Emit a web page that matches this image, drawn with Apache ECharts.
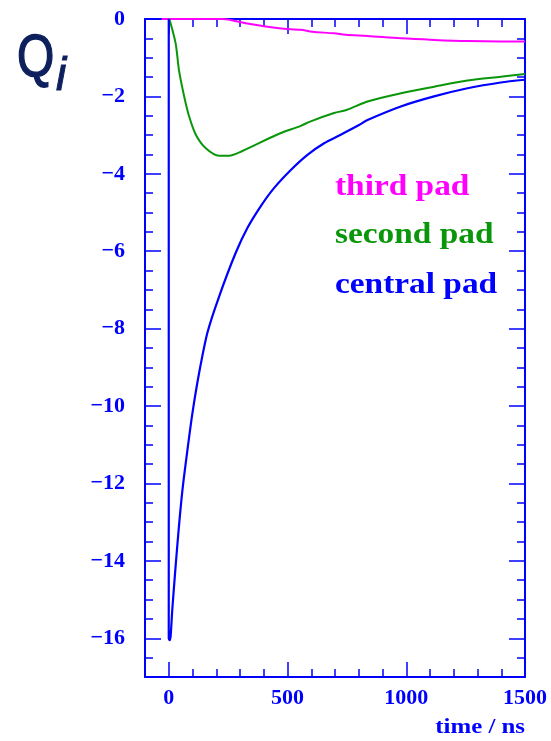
<!DOCTYPE html>
<html>
<head lang="en">
    <meta charset="UTF-8">
    <title>Q_i vs time</title>
    <script type="text/javascript" src="https://cdn.jsdelivr.net/npm/echarts@6/dist/echarts.min.js"></script>
    <style>
        html, body { margin: 0; padding: 0; background: #fff; }
        #chart { width: 551px; height: 741px; }
    </style>
</head>
<body>
<div id="chart"></div>
<script type="text/javascript">
    // values: [time in ns, Q]
    var centralPad = [[0, 0], [0, -16.0], [4, -16.05], [8, -15.94], [15, -15.25], [29, -14.13], [43, -13.1],
        [58, -12.15], [79, -11.12], [100, -10.17], [128, -9.14], [163, -8.1], [212, -7.17], [282, -6.04],
        [331, -5.40], [387, -4.84], [443, -4.37], [514, -3.90], [584, -3.51], [654, -3.21], [724, -2.99],
        [801, -2.74], [837, -2.61], [977, -2.26], [1117, -2.0], [1258, -1.79], [1398, -1.64], [1500, -1.57]];
    var secondPad = [[0, 0], [4, -0.03], [29, -0.63], [43, -1.32], [65, -2.0], [86, -2.52], [114, -2.99],
        [156, -3.34], [212, -3.53], [254, -3.53], [310, -3.41], [455, -2.99], [556, -2.76],
        [595, -2.65], [696, -2.43], [748, -2.35], [837, -2.13], [977, -1.92], [1117, -1.75], [1258, -1.59],
        [1398, -1.49], [1500, -1.42]];
    var thirdPad = [[-30, 0], [226, 0], [324, -0.11], [465, -0.24], [556, -0.28], [605, -0.33], [696, -0.37],
        [745, -0.41], [837, -0.44], [977, -0.5], [1117, -0.54], [1258, -0.57], [1398, -0.58], [1500, -0.58]];

    var xTicks = [0, 500, 1000, 1500];
    var yTicks = [0, -2, -4, -6, -8, -10, -12, -14, -16];
    var legendNames = ['third pad', 'second pad', 'central pad'];

    var BLUE = '#0000ff', GREEN = '#0a960a', MAGENTA = '#ff00ff', NAVY = '#0d1f5c';
    var serif = '"Liberation Serif", "Times New Roman", serif';
    var sans = '"Liberation Sans", Arial, sans-serif';

    function yLabel(v) {
        return v === 0 ? '0' : '\u2212' + Math.abs(v);
    }

    function xAxisOf(pos, major) {
        return {
            type: 'value', position: pos, min: -100, max: 1500,
            interval: major ? undefined : 100,
            splitLine: {show: false},
            axisLine: {show: major, onZero: false, lineStyle: {color: BLUE, width: 2}},
            axisTick: major
                ? {inside: true, length: 15, customValues: xTicks, lineStyle: {color: BLUE, width: 1.5}}
                : {inside: true, length: 8, lineStyle: {color: BLUE, width: 1.5}},
            axisLabel: (major && pos === 'bottom')
                ? {customValues: xTicks, formatter: function (v) { return String(v); },
                    color: BLUE, fontFamily: serif, fontWeight: 'bold', fontSize: 22, margin: 10}
                : {show: false}
        };
    }

    function yAxisOf(pos, major) {
        return {
            type: 'value', position: pos, min: -17, max: 0,
            interval: major ? undefined : 0.5,
            splitLine: {show: false},
            axisLine: {show: major, onZero: false, lineStyle: {color: BLUE, width: 2}},
            axisTick: major
                ? {inside: true, length: 16, customValues: yTicks, lineStyle: {color: BLUE, width: 1.5}}
                : {inside: true, length: 8, lineStyle: {color: BLUE, width: 1.5}},
            axisLabel: (major && pos === 'left')
                ? {customValues: yTicks, formatter: yLabel, color: BLUE, fontFamily: serif,
                    fontWeight: 'bold', fontSize: 22, margin: 20}
                : {show: false}
        };
    }

    // text placed by its baseline (canvas 'middle' sits ~0.34em above it)
    function label(text, x, baseline, font, size, color, sx, align, bold) {
        return {
            type: 'text', x: x, y: baseline - 0.34 * size, scaleX: sx, z: 10,
            style: {text: text, x: 0, y: 0, fill: color, font: font.replace('SIZE', size + 'px'),
                align: align || 'left', verticalAlign: 'middle',
                stroke: bold ? color : null, lineWidth: bold || 0}
        };
    }

    var myChart = echarts.init(document.getElementById('chart'));

    myChart.setOption({
        animation: false,
        backgroundColor: '#fff',
        grid: {left: 145, right: 26, top: 19, bottom: 64, outerBoundsMode: 'none'},
        xAxis: [xAxisOf('bottom', true), xAxisOf('bottom', false), xAxisOf('top', true), xAxisOf('top', false)],
        yAxis: [yAxisOf('left', true), yAxisOf('left', false), yAxisOf('right', true), yAxisOf('right', false)],
        series: [
            {name: legendNames[0], type: 'line', data: thirdPad, showSymbol: false, smooth: 0.3,
                z: 5, lineStyle: {color: MAGENTA, width: 2}},
            {name: legendNames[1], type: 'line', data: secondPad, showSymbol: false, smooth: 0.3,
                z: 5, lineStyle: {color: GREEN, width: 2}},
            {name: legendNames[2], type: 'line', data: centralPad, showSymbol: false, smooth: 0.25,
                z: 5, lineStyle: {color: BLUE, width: 2.2}}
        ],
        graphic: [
            label('Q', 17, 80, 'SIZE ' + sans, 60, NAVY, 0.8, 'left', 1.5),
            label('i', 56, 93, 'italic SIZE ' + sans, 46, NAVY, 1, 'left', 1),
            label(legendNames[0], 335, 197, 'bold SIZE ' + serif, 29, MAGENTA, 1.15),
            label(legendNames[1], 335, 245, 'bold SIZE ' + serif, 29, GREEN, 1.15),
            label(legendNames[2], 335, 295, 'bold SIZE ' + serif, 29, BLUE, 1.15),
            label('time / ns', 525, 735, 'bold SIZE ' + serif, 22, BLUE, 1.13, 'right')
        ]
    });
</script>
</body>
</html>
